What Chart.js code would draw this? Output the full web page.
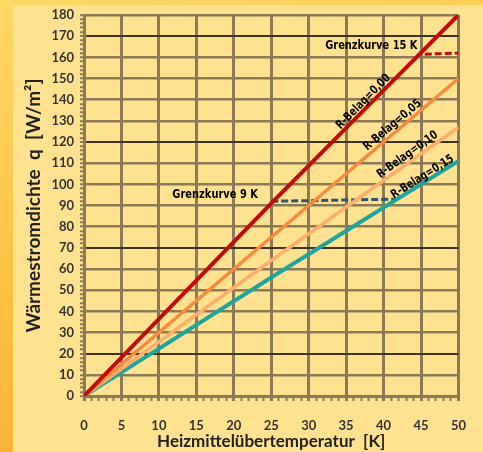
<!DOCTYPE html>
<html>
<head>
<meta charset="utf-8">
<script src="https://cdn.jsdelivr.net/npm/chart.js@4.4.1/dist/chart.umd.min.js"></script>
<style>
  html, body { margin: 0; padding: 0; }
  body {
    width: 483px; height: 452px; overflow: hidden; position: relative;
    background: linear-gradient(165deg, #ffd866 0%, #fcc445 45%, #f5a82c 100%);
  }
  #panel { position: absolute; left: 13px; top: 5px; right: 0; bottom: 0; background: #ffe28f; }
  #chart { position: absolute; left: 0; top: 0; }
</style>
</head>
<body>
<div id="panel"></div>
<canvas id="chart" width="483" height="452"></canvas>
<script>
// Heizmittelübertemperatur [K]
const xValues = [0, 25, 50];
// Wärmestromdichte q [W/m²] je R-Belag
const belag000 = [0, 91, 180];
const belag005 = [0, 75, 150];
const belag010 = [0, 64, 127];
const belag015 = [0, 56, 111];

// Grenzkurven
const grenz9x = [25, 41.6];
const grenz9y = [92, 93];
const grenz15x = [45.5, 50];
const grenz15y = [161.5, 162];

// Beschriftungen (Datenkoordinaten)
const curveLabels = ['R-Belag=0,00', 'R-Belag=0,05', 'R-Belag=0,10', 'R-Belag=0,15'];
const curveLabelX = [37.3, 41.2, 43.2, 45.2];
const curveLabelY = [139, 128, 114, 103.5];
const grenzLabels = ['Grenzkurve 15 K', 'Grenzkurve 9 K'];
const grenzLabelX = [32.2, 11.8];
const grenzLabelY = [165.5, 95];

const toPoints = (xs, ys) => xs.map((x, i) => ({ x: x, y: ys[i] }));

const labelPlugin = {
  id: 'labels',
  afterDatasetsDraw(chart) {
    const { ctx, scales } = chart;
    const xs = scales.x, ys = scales.y;
    ctx.save();
    ctx.fillStyle = '#000';
    ctx.font = 'bold 12px "DejaVu Sans", sans-serif';
    ctx.textAlign = 'center';
    ctx.textBaseline = 'middle';
    curveLabels.forEach((t, i) => {
      const data = chart.data.datasets[i].data;
      const a = data[0], b = data[data.length - 1];
      const ang = Math.atan2(ys.getPixelForValue(b.y) - ys.getPixelForValue(a.y),
                             xs.getPixelForValue(b.x) - xs.getPixelForValue(a.x));
      ctx.save();
      ctx.translate(xs.getPixelForValue(curveLabelX[i]), ys.getPixelForValue(curveLabelY[i]));
      ctx.rotate(ang);
      ctx.scale(0.78, 1);
      ctx.fillText(t, 0, 0);
      ctx.restore();
    });
    ctx.textAlign = 'left';
    grenzLabels.forEach((t, i) => {
      ctx.save();
      ctx.translate(xs.getPixelForValue(grenzLabelX[i]), ys.getPixelForValue(grenzLabelY[i]));
      ctx.scale(0.76, 1);
      ctx.font = 'bold 13px "DejaVu Sans", sans-serif';
      ctx.fillText(t, 0, 0);
      ctx.restore();
    });
    ctx.restore();
  }
};

const darkRows = [20, 70, 120, 170];

new Chart(document.getElementById('chart'), {
  type: 'line',
  data: {
    datasets: [
      { data: toPoints(xValues, belag000), borderColor: '#c40a0a', borderWidth: 4 },
      { data: toPoints(xValues, belag005), borderColor: '#f78a3c', borderWidth: 3.5 },
      { data: toPoints(xValues, belag010), borderColor: '#ffad6a', borderWidth: 3.5 },
      { data: toPoints(xValues, belag015), borderColor: '#1fa59e', borderWidth: 4 },
      { data: toPoints(grenz9x, grenz9y), borderColor: '#2c5473', borderWidth: 3, borderDash: [7, 3] },
      { data: toPoints(grenz15x, grenz15y), borderColor: '#c40a0a', borderWidth: 3, borderDash: [7, 3] }
    ]
  },
  options: {
    responsive: false,
    animation: false,
    layout: { padding: { left: 13, right: 23, top: 15, bottom: 0 } },
    elements: { point: { radius: 0 }, line: { tension: 0, borderCapStyle: 'butt' } },
    plugins: { legend: { display: false }, tooltip: { enabled: false } },
    scales: {
      x: {
        type: 'linear', min: 0, max: 50,
        afterFit: (s) => { s.height = 56; },
        border: { color: '#8a7a55', width: 3 },
        grid: {
          color: (c) => (c.tick && c.tick.value % 5 === 0 ? '#8a7a55' : 'rgba(0,0,0,0)'),
          lineWidth: 3,
          tickColor: '#8a7a55',
          tickWidth: (c) => (c.tick && c.tick.value % 5 === 0 ? 3 : 2),
          tickLength: 5
        },
        ticks: {
          stepSize: 1, autoSkip: false, maxRotation: 0, padding: 17,
          color: '#333',
          font: { family: 'Lato', weight: 'bold', size: 13 },
          callback: (v) => (v % 5 === 0 ? v : '')
        },
        title: {
          display: true, text: 'Heizmittelübertemperatur  [K]', color: '#222',
          font: { family: 'Lato', weight: 'bold', size: 17 }, padding: { top: 0, bottom: 0 }
        }
      },
      y: {
        type: 'linear', min: 0, max: 180,
        afterFit: (s) => { s.width = 71; },
        border: { color: '#8a7a55', width: 3 },
        grid: {
          color: (c) => {
            if (!c.tick || c.tick.value % 10 !== 0) return 'rgba(0,0,0,0)';
            return darkRows.includes(c.tick.value) ? '#3e3524' : '#8a7a55';
          },
          lineWidth: (c) => (c.tick && darkRows.includes(c.tick.value) ? 2 : 2.5),
          tickColor: '#8a7a55',
          tickWidth: 2,
          tickLength: 4
        },
        ticks: {
          stepSize: 2, autoSkip: false, padding: 6,
          color: '#333',
          font: { family: 'Lato', weight: 'bold', size: 13 },
          callback: (v) => (v % 10 === 0 ? v : '')
        },
        title: {
          display: true, text: 'Wärmestromdichte  q  [W/m²]', color: '#222',
          font: { family: 'Lato', weight: 'bold', size: 19 }, padding: { top: 9, bottom: 0 }
        }
      }
    }
  },
  plugins: [labelPlugin]
});
</script>
</body>
</html>
